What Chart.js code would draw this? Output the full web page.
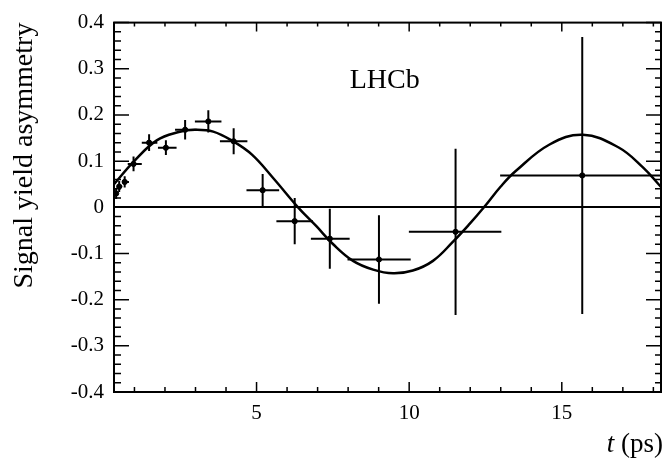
<!DOCTYPE html>
<html>
<head>
<meta charset="utf-8">
<script src="https://cdn.jsdelivr.net/npm/chart.js@4.4.1/dist/chart.umd.min.js"></script>
<style>
  html, body { margin: 0; padding: 0; background: #fff; }
  canvas { display: block; }
</style>
</head>
<body>
<canvas id="asymChart" width="665" height="461"></canvas>
<script>
// measured points: decay time (ps), bin edges, asymmetry and its error
const tValues    = [0.40, 0.50, 0.68, 0.97, 1.48, 2.03, 2.66, 3.42, 4.25, 5.20, 6.25, 7.40, 9.01, 11.52, 15.67];
const tLow       = [0.33, 0.45, 0.60, 0.78, 1.24, 1.77, 2.33, 2.98, 3.80, 4.67, 5.65, 6.78, 7.98, 9.99, 12.98];
const tHigh      = [0.45, 0.60, 0.82, 1.24, 1.75, 2.38, 3.04, 3.85, 4.70, 5.74, 6.85, 8.05, 10.05, 13.02, 18.40];
const asymValues = [0.030, 0.045, 0.055, 0.094, 0.140, 0.129, 0.168, 0.186, 0.143, 0.037, -0.030, -0.068, -0.113, -0.053, 0.069];
const asymErrors = [0.012, 0.012, 0.012, 0.016, 0.018, 0.016, 0.021, 0.024, 0.028, 0.035, 0.050, 0.065, 0.096, 0.180, 0.300];

// fit curve
const fitT = [0.33, 0.96, 1.73, 2.45, 2.98, 3.58, 4.23, 4.85, 5.55, 6.36, 6.96, 7.51, 8.16, 8.82, 9.47, 10.12, 10.78, 11.43, 11.98, 12.45, 13.00, 13.50, 14.60, 15.69, 16.85, 17.65, 18.25];
const fitY = [0.050, 0.098, 0.145, 0.163, 0.168, 0.164, 0.143, 0.114, 0.063, 0.000, -0.041, -0.080, -0.116, -0.135, -0.143, -0.137, -0.116, -0.075, -0.036, 0.000, 0.045, 0.079, 0.136, 0.157, 0.130, 0.087, 0.044];

const xTickValues = [5, 10, 15];
const yTickValues = [-0.4, -0.3, -0.2, -0.1, 0, 0.1, 0.2, 0.3, 0.4];

const serif = '"Liberation Serif", "Times New Roman", serif';

// frame with inside ticks, error bars, x title and the LHCb label
const rootStyle = {
  id: 'rootStyle',
  beforeDatasetsDraw(chart) {
    const { ctx, chartArea: a } = chart;
    const xs = chart.scales.x, ys = chart.scales.y;
    ctx.save();
    ctx.beginPath();
    ctx.rect(a.left, a.top, a.right - a.left, a.bottom - a.top);
    ctx.clip();
    ctx.strokeStyle = '#000';
    ctx.lineWidth = 2;
    for (let i = 0; i < tValues.length; i++) {
      const px = xs.getPixelForValue(tValues[i]);
      const py = ys.getPixelForValue(asymValues[i]);
      ctx.beginPath();
      ctx.moveTo(xs.getPixelForValue(tLow[i]), py);
      ctx.lineTo(xs.getPixelForValue(tHigh[i]), py);
      ctx.moveTo(px, ys.getPixelForValue(asymValues[i] - asymErrors[i]));
      ctx.lineTo(px, ys.getPixelForValue(asymValues[i] + asymErrors[i]));
      ctx.stroke();
    }
    ctx.restore();
  },
  afterDatasetsDraw(chart) {
    const { ctx, chartArea: a } = chart;
    const xs = chart.scales.x, ys = chart.scales.y;
    ctx.save();
    ctx.strokeStyle = '#000';
    ctx.lineWidth = 2;
    ctx.strokeRect(a.left, a.top, a.right - a.left, a.bottom - a.top);

    ctx.lineWidth = 1.5;
    ctx.beginPath();
    for (let t = 1; t <= 18; t++) {
      const px = xs.getPixelForValue(t);
      const major = t % 5 === 0;
      ctx.moveTo(px, a.bottom);
      ctx.lineTo(px, a.bottom - (major ? 10 : 5));
      ctx.moveTo(px, a.top);
      ctx.lineTo(px, a.top + (major ? 9 : 4));
    }
    for (let k = -20; k <= 20; k++) {
      const py = ys.getPixelForValue(k * 0.02);
      const major = k % 5 === 0;
      ctx.moveTo(a.left, py);
      ctx.lineTo(a.left + (major ? 15 : 7), py);
      ctx.moveTo(a.right, py);
      ctx.lineTo(a.right - (major ? 15 : 6), py);
    }
    ctx.stroke();

    ctx.fillStyle = '#000';
    ctx.textBaseline = 'alphabetic';
    // x title: italic t followed by (ps)
    ctx.font = '27px ' + serif;
    ctx.textAlign = 'right';
    const unit = ' (ps)';
    ctx.fillText(unit, 663, 452);
    const uw = ctx.measureText(unit).width;
    ctx.font = 'italic 27px ' + serif;
    ctx.fillText('t', 663 - uw, 452);

    ctx.font = '28px ' + serif;
    ctx.textAlign = 'center';
    ctx.textBaseline = 'middle';
    ctx.fillText('LHCb', xs.getPixelForValue(9.2), ys.getPixelForValue(0.274));
    ctx.restore();
  }
};

new Chart(document.getElementById('asymChart'), {
  type: 'scatter',
  data: {
    datasets: [
      {
        label: 'fit',
        type: 'line',
        data: fitT.map((t, i) => ({ x: t, y: fitY[i] })),
        borderColor: '#000',
        borderWidth: 2.5,
        pointRadius: 0,
        fill: false,
        tension: 0.4
      },
      {
        label: 'data',
        data: tValues.map((t, i) => ({ x: t, y: asymValues[i] })),
        backgroundColor: '#000',
        borderColor: '#000',
        pointRadius: 2.6,
        pointHoverRadius: 2.6
      }
    ]
  },
  options: {
    responsive: false,
    animation: false,
    layout: { padding: { top: 16, right: 4, left: 0, bottom: 0 } },
    plugins: {
      legend: { display: false },
      tooltip: { enabled: false }
    },
    scales: {
      x: {
        type: 'linear',
        min: 0.33,
        max: 18.25,
        afterBuildTicks: s => { s.ticks = xTickValues.map(v => ({ value: v })); },
        afterFit: s => { s.height = 69; },
        grid: { display: false, drawTicks: false },
        border: { display: false },
        ticks: {
          color: '#000',
          padding: 9,
          maxRotation: 0,
          font: { family: serif, size: 21 },
          callback: v => String(v)
        },
        title: { display: false }
      },
      y: {
        min: -0.4,
        max: 0.4,
        afterBuildTicks: s => { s.ticks = yTickValues.map(v => ({ value: v })); },
        afterFit: s => { s.width = 114; },
        grid: {
          drawTicks: false,
          lineWidth: 2,
          color: c => (c.tick && Math.abs(c.tick.value) < 1e-9 ? '#000' : 'rgba(0,0,0,0)')
        },
        border: { display: false },
        ticks: {
          color: '#000',
          padding: 10,
          font: { family: serif, size: 21 },
          callback: v => (Math.abs(v) < 1e-9 ? '0' : v.toFixed(1))
        },
        title: {
          display: true,
          text: 'Signal yield asymmetry',
          align: 'end',
          color: '#000',
          padding: { top: 8, bottom: 0 },
          font: { family: serif, size: 28 }
        }
      }
    }
  },
  plugins: [rootStyle]
});
</script>
</body>
</html>
